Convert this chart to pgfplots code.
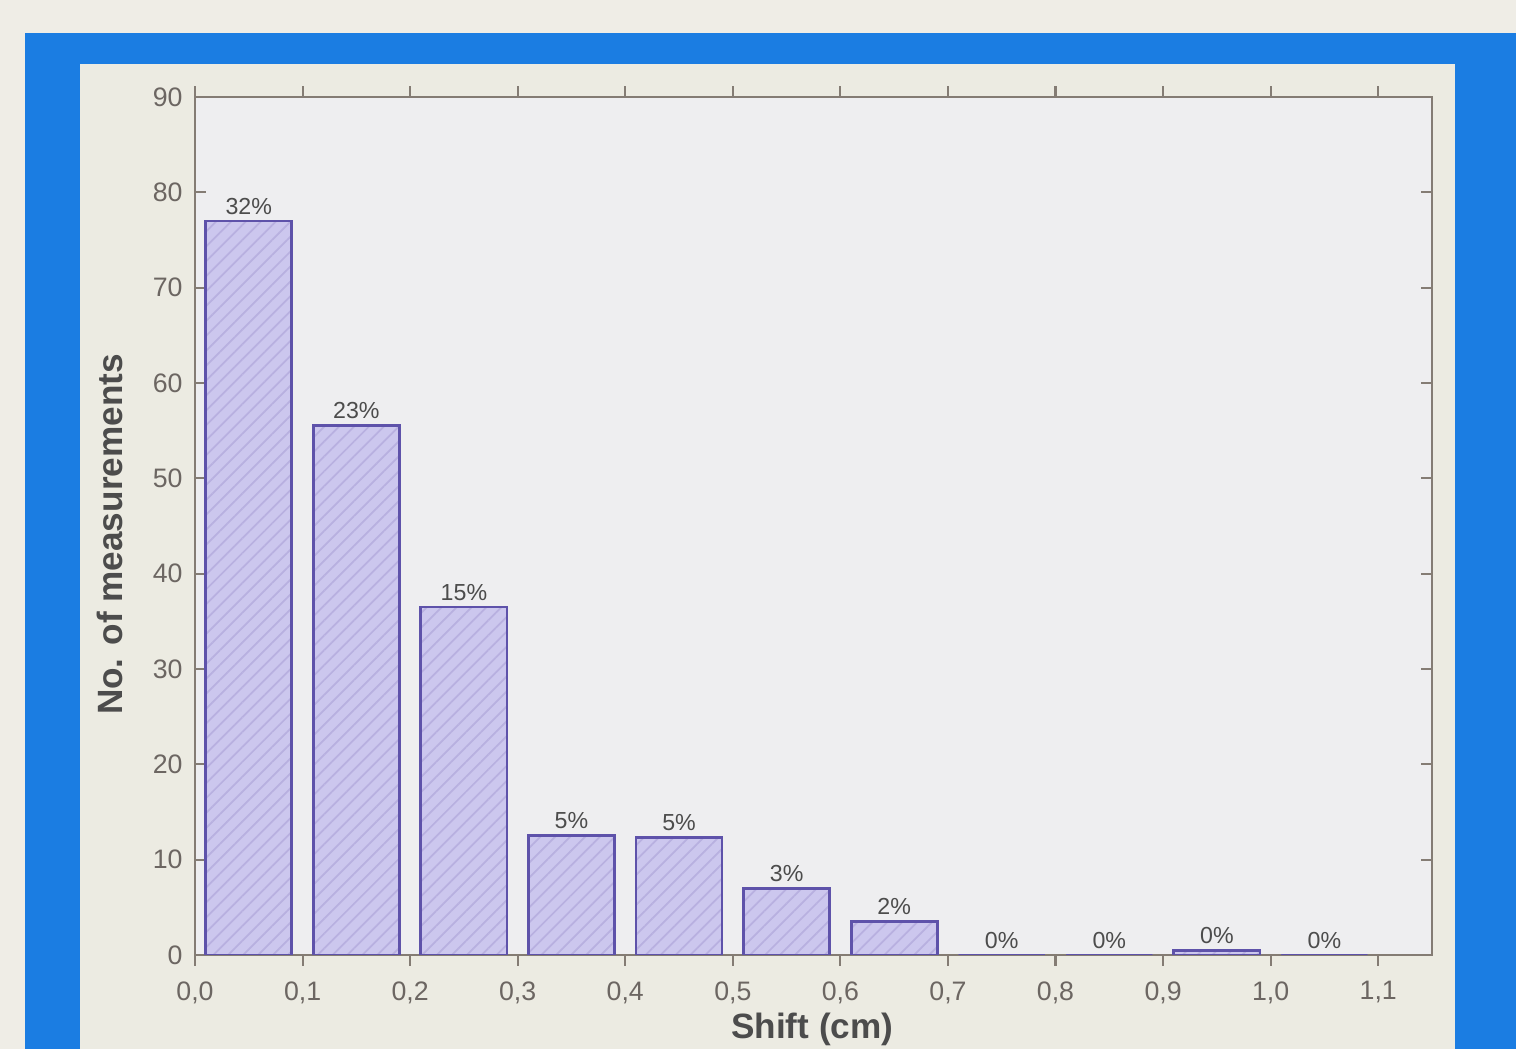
\documentclass[border=0pt]{standalone}
\usepackage{fontspec}
\setmainfont{Liberation Sans}
\usepackage{pgfplots}
\pgfplotsset{compat=1.18}
\usetikzlibrary{patterns.meta}

\definecolor{pagebg}{HTML}{EFEDE6}
\definecolor{bluefr}{HTML}{1B7DE2}
\definecolor{panel}{HTML}{ECEBE2}
\definecolor{plotbg}{HTML}{EEEEF0}
\definecolor{axisgray}{HTML}{847C74}
\definecolor{ticktext}{HTML}{6C6662}
\definecolor{barfill}{HTML}{CCC7EE}
\definecolor{baredge}{HTML}{5E52AA}
\definecolor{hatch}{HTML}{B8B0E0}

\begin{document}
\begin{tikzpicture}
\useasboundingbox (0,0) rectangle (15.16,10.49);
\clip (0,0) rectangle (15.16,10.49);
% photo background, blue slide frame, cream panel
\fill[pagebg] (0,0) rectangle (15.16,10.49);
\fill[bluefr] (0.25,0) rectangle (15.16,10.16);
\fill[panel] (0.80,0) rectangle (14.55,9.85);

\begin{axis}[
    at={(1.95cm,0.94cm)}, anchor=south west,
    scale only axis,
    width=12.37cm, height=8.58cm,
    xmin=0, xmax=1.15,
    ymin=0, ymax=90,
    xtick={0,0.1,...,1.1},
    ytick={0,10,...,90},
    axis background/.style={fill=plotbg},
    axis line style={axisgray, line width=0.8pt},
    tick style={axisgray, line width=0.6pt},
    tick align=inside,
    major tick length=3pt,
    tick label style={font=\fontsize{7.6}{9}\selectfont, text=ticktext},
    xticklabel style={/pgf/number format/fixed, /pgf/number format/fixed zerofill,
        /pgf/number format/precision=1, /pgf/number format/use comma,
        /pgf/number format/assume math mode=true, yshift=-1pt},
    yticklabel style={/pgf/number format/assume math mode=true},
    every axis y label/.style={at={(axis description cs:-0.0687,0.49)}, rotate=90, anchor=center,
        font=\fontsize{10}{12}\selectfont\bfseries, text=black!70},
    every axis x label/.style={at={(axis description cs:0.499,-0.1072)}, anchor=south,
        inner sep=0pt, font=\fontsize{10}{12}\selectfont\bfseries, text=black!70},
    xlabel={Shift (cm)},
    ylabel={No. of measurements},
    ybar, bar width=0.08, bar shift=0pt,
    point meta=explicit symbolic,
    nodes near coords,
    every node near coord/.append style={font=\fontsize{6.6}{8}\selectfont, text=black!70, inner sep=1.5pt},
]
\addplot[draw=baredge, line width=0.8pt, fill=barfill,
    postaction={pattern={Lines[angle=45, distance=3pt, line width=0.5pt]}, pattern color=hatch}]
coordinates {
    (0.05,77)   [32\%]
    (0.15,55.5) [23\%]
    (0.25,36.5) [15\%]
    (0.35,12.5) [5\%]
    (0.45,12.3) [5\%]
    (0.55,7)    [3\%]
    (0.65,3.5)  [2\%]
    (0.75,0)    [0\%]
    (0.85,0)    [0\%]
    (0.95,0.5)  [0\%]
    (1.05,0)    [0\%]
};
\end{axis}
\end{tikzpicture}
\end{document}
